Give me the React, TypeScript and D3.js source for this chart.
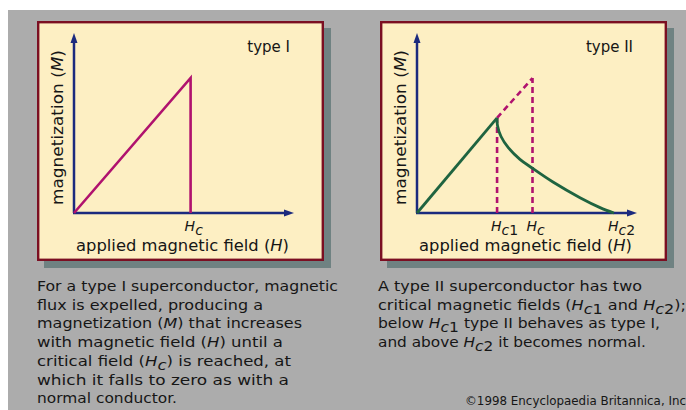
import React from "react";
import * as d3 from "d3";

// field / magnetization in arbitrary units (axis runs 0..100)
const type1H = [0, 53, 53];
const type1M = [0, 75, 0];

const hc1 = 36.4;
const hc = 52.5;
const hc2 = 89.5;
const m1 = 52.8;
const mc = 75;

const type2RiseH = [0, hc1];
const type2RiseM = [0, m1];
const type2DecayH = [36.4, 36.6, 38.2, 41.5, 46.8, 52.3, 61.8, 74.1, 83.2, 89.5];
const type2DecayM = [52.8, 48.5, 42.5, 36.3, 29.8, 25, 17.2, 8.5, 3, 0];

type Seg = { t: string; i?: boolean; sub?: boolean };

const leftText: Seg[][] = [
  [{ t: "For a type I superconductor, magnetic" }],
  [{ t: "flux is expelled, producing a" }],
  [{ t: "magnetization (" }, { t: "M", i: true }, { t: ") that increases" }],
  [{ t: "with magnetic field (" }, { t: "H", i: true }, { t: ") until a" }],
  [{ t: "critical field (" }, { t: "H", i: true }, { t: "c", i: true, sub: true }, { t: ") is reached, at" }],
  [{ t: "which it falls to zero as with a" }],
  [{ t: "normal conductor." }],
];
const leftWidths = [301, 226, 265, 246, 254, 252, 140];

const rightText: Seg[][] = [
  [{ t: "A type II superconductor has two" }],
  [
    { t: "critical magnetic fields (" },
    { t: "H", i: true },
    { t: "c", i: true, sub: true },
    { t: "1", sub: true },
    { t: " and " },
    { t: "H", i: true },
    { t: "c", i: true, sub: true },
    { t: "2", sub: true },
    { t: ");" },
  ],
  [{ t: "below " }, { t: "H", i: true }, { t: "c", i: true, sub: true }, { t: "1", sub: true }, { t: " type II behaves as type I," }],
  [{ t: "and above " }, { t: "H", i: true }, { t: "c", i: true, sub: true }, { t: "2", sub: true }, { t: " it becomes normal." }],
];
const rightWidths = [264, 308, 282, 268];

const FONT = "DejaVu Sans, sans-serif";
const NAVY = "#1b2a7e";
const MAGENTA = "#b0126e";
const GREEN = "#1f6440";

const Line = ({ segs, x, y, w, size = 14 }: { segs: Seg[]; x: number; y: number; w?: number; size?: number }) => {
  let shifted = false;
  return (
    <text
      x={x}
      y={y}
      fontFamily={FONT}
      fontSize={size}
      fill="#161616"
      textLength={w}
      lengthAdjust={w ? "spacingAndGlyphs" : undefined}
    >
      {segs.map((s, k) => {
        let dy = 0;
        if (s.sub && !shifted) { dy = 4; shifted = true; }
        else if (!s.sub && shifted) { dy = -4; shifted = false; }
        return (
          <tspan key={k} dy={dy || undefined} fontStyle={s.i ? "italic" : undefined}>
            {s.t}
          </tspan>
        );
      })}
    </text>
  );
};

const Arrow = ({ x, y, dir }: { x: number; y: number; dir: "up" | "right" }) => {
  const p = dir === "up"
    ? [[x, y], [x - 3.5, y + 10], [x + 3.5, y + 10]]
    : [[x, y], [x - 10, y - 3.5], [x - 10, y + 3.5]];
  return <polygon points={p.map((d) => d.join(",")).join(" ")} fill={NAVY} />;
};

const Panel = ({ px, kind }: { px: number; kind: 1 | 2 }) => {
  const ox = px + 37;
  const x = d3.scaleLinear().domain([0, 100]).range([ox, ox + 220]);
  const y = d3.scaleLinear().domain([0, 100]).range([213, 33]);
  const line = d3.line<[number, number]>().x((d) => x(d[0])).y((d) => y(d[1]));
  const zip = (a: number[], b: number[]) => a.map((v, i) => [v, b[i]] as [number, number]);
  const curve = d3.line<[number, number]>().x((d) => x(d[0])).y((d) => y(d[1])).curve(d3.curveCatmullRom.alpha(0.5));

  const hLabel = (h: number, sub: string) => (
    <Line
      x={x(h) - 6}
      y={231}
      segs={[{ t: "H", i: true }, { t: "c", i: true, sub: true }, ...(sub ? [{ t: sub, sub: true }] : [])]}
    />
  );

  return (
    <g>
      <rect x={px + 7} y={28} width={287} height={240} fill="#6f8282" />
      <rect x={px + 1.2} y={22.2} width={284.6} height={237.6} fill="#fdefc3" stroke="#7b0f22" strokeWidth={2.4} />

      {/* axes */}
      <line x1={x(0)} y1={y(0)} x2={x(0)} y2={y(100) + 6} stroke={NAVY} strokeWidth={2.5} />
      <line x1={x(0) - 1} y1={y(0)} x2={x(100) - 6} y2={y(0)} stroke={NAVY} strokeWidth={2.5} />
      <Arrow x={x(0)} y={y(100)} dir="up" />
      <Arrow x={x(100)} y={y(0)} dir="right" />

      {kind === 1 ? (
        <path d={line(zip(type1H, type1M)) ?? ""} fill="none" stroke={MAGENTA} strokeWidth={2.6} strokeLinejoin="miter" />
      ) : (
        <g>
          <path d={line([[hc1, 0], [hc1, m1]]) ?? ""} stroke={MAGENTA} strokeWidth={2.6} strokeDasharray="6,4" fill="none" />
          <path d={line([[hc, 0], [hc, mc]]) ?? ""} stroke={MAGENTA} strokeWidth={2.6} strokeDasharray="6,4" fill="none" />
          <path d={line([[hc1, m1], [hc, mc]]) ?? ""} stroke={MAGENTA} strokeWidth={2.6} strokeDasharray="6,4" fill="none" />
          <path d={line(zip(type2RiseH, type2RiseM)) ?? ""} stroke={GREEN} strokeWidth={2.8} fill="none" />
          <path d={curve(zip(type2DecayH, type2DecayM)) ?? ""} stroke={GREEN} strokeWidth={2.8} fill="none" />
        </g>
      )}

      {kind === 1 ? hLabel(53, "") : (
        <g>
          {hLabel(hc1, "1")}
          {hLabel(hc, "")}
          {hLabel(hc2, "2")}
        </g>
      )}

      <Line
        x={ox + 2}
        y={251}
        w={213}
        size={15}
        segs={[{ t: "applied magnetic field (" }, { t: "H", i: true }, { t: ")" }]}
      />
      <g transform={`translate(${px + 26},205) rotate(-90)`}>
        <Line x={0} y={0} w={155} size={15} segs={[{ t: "magnetization (" }, { t: "M", i: true }, { t: ")" }]} />
      </g>
      <text x={px + 253} y={52} textAnchor="end" fontFamily={FONT} fontSize={15} fill="#161616">
        {kind === 1 ? "type I" : "type II"}
      </text>
    </g>
  );
};

export default function App() {
  return (
    <div style={{ position: "absolute", left: 0, top: 0 }}>
      <svg width={686} height={410} style={{ display: "block" }}>
        <rect width={686} height={410} fill="#ffffff" />
        <rect x={8} y={10} width={678} height={400} fill="#acacac" />
        <Panel px={37} kind={1} />
        <Panel px={380} kind={2} />
        {leftText.map((segs, i) => (
          <Line key={"l" + i} x={37} y={291 + i * 18.7} w={leftWidths[i]} segs={segs} />
        ))}
        {rightText.map((segs, i) => (
          <Line key={"r" + i} x={378} y={291 + i * 18.7} w={rightWidths[i]} segs={segs} />
        ))}
        <text x={465} y={405} fontFamily={FONT} fontSize={11.5} fill="#161616" textLength={221} lengthAdjust="spacingAndGlyphs">
          ©1998 Encyclopaedia Britannica, Inc
        </text>
      </svg>
    </div>
  );
}
